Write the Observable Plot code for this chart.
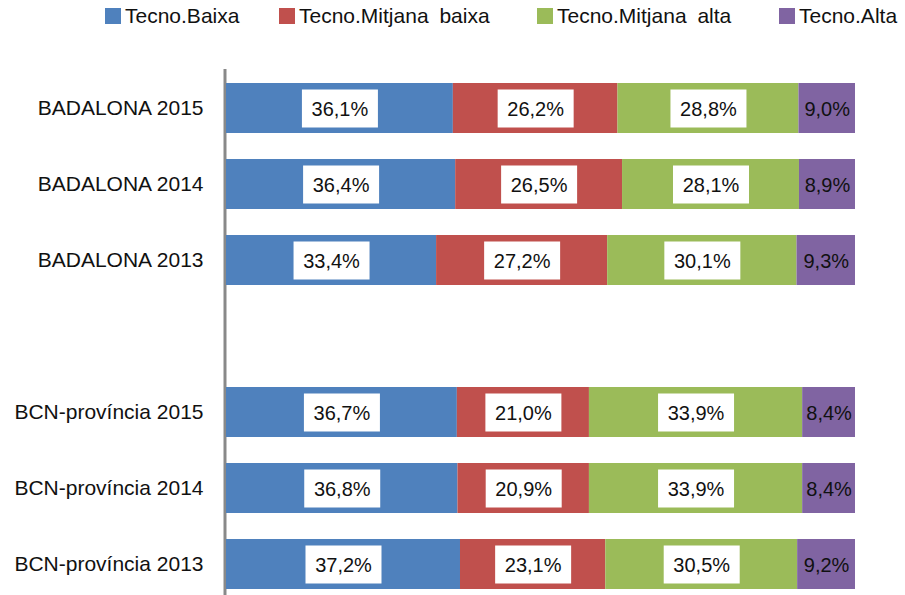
<!DOCTYPE html>
<html>
<head>
<meta charset="utf-8">
<script src="https://cdn.jsdelivr.net/npm/d3@7"></script>
<script src="https://cdn.jsdelivr.net/npm/@observablehq/plot@0.6"></script>
<style>
  html, body { margin: 0; padding: 0; background: #fff; }
  #wrap { position: relative; width: 905px; height: 595px; overflow: hidden; }
  #legend { position: absolute; top: 4px; left: 0; width: 905px; height: 30px;
            font-family: "Liberation Sans", Arial, sans-serif; font-size: 21px; color: #111; }
  .item { position: absolute; top: 0; display: flex; align-items: center; white-space: nowrap; word-spacing: 5px; }
  .sw { width: 16px; height: 16px; margin-right: 4px; display: inline-block; }
  svg { display: block; }
</style>
</head>
<body>
<div id="wrap"><div id="legend"></div><div id="chart"></div></div>
<script>
const categories = ["BADALONA 2015", "BADALONA 2014", "BADALONA 2013", "", "BCN-província 2015", "BCN-província 2014", "BCN-província 2013"];
const series = ["Tecno.Baixa", "Tecno.Mitjana baixa", "Tecno.Mitjana alta", "Tecno.Alta"];
const colors = ["#4F81BD", "#C0504D", "#9BBB59", "#8064A2"];
const tecnoBaixa        = [36.1, 36.4, 33.4, null, 36.7, 36.8, 37.2];
const tecnoMitjanaBaixa = [26.2, 26.5, 27.2, null, 21.0, 20.9, 23.1];
const tecnoMitjanaAlta  = [28.8, 28.1, 30.1, null, 33.9, 33.9, 30.5];
const tecnoAlta         = [9.0, 8.9, 9.3, null, 8.4, 8.4, 9.2];

const seriesValues = [tecnoBaixa, tecnoMitjanaBaixa, tecnoMitjanaAlta, tecnoAlta];
const rows = [];
categories.forEach((cat, i) => {
  if (!cat) return;
  const vals = seriesValues.map(s => s[i]);
  const total = d3.sum(vals);
  let acc = 0;
  vals.forEach((v, j) => {
    const x1 = acc / total * 100;
    acc += v;
    const x2 = acc / total * 100;
    rows.push({cat, series: series[j], idx: j, value: v, x1, x2, mid: (x1 + x2) / 2,
               label: v.toFixed(1).replace(".", ",") + "%"});
  });
});

const boxSymbol = { draw(context) { context.rect(-38, -19, 76, 38); } };

const chart = Plot.plot({
  width: 905,
  height: 595,
  marginLeft: 226,
  marginRight: 50,
  marginTop: 69,
  marginBottom: 0,
  style: { fontFamily: "Liberation Sans, Arial, sans-serif", background: "white" },
  x: { domain: [0, 100], axis: null },
  y: { domain: categories, range: [69.5, 602.2], paddingInner: 0.346, paddingOuter: 0.173, label: null },
  color: { domain: series, range: colors },
  marks: [
    Plot.ruleX([0], { stroke: "#898989", strokeWidth: 3, dx: -1.5 }),
    Plot.barX(rows, { x1: "x1", x2: "x2", y: "cat", fill: "series" }),
    Plot.dot(rows.filter(d => d.idx < 3), { x: "mid", y: "cat", symbol: boxSymbol, fill: "white", stroke: null, r: 10 }),
    Plot.text(rows, { x: "mid", y: "cat", text: "label", fontSize: 20, fill: "#111", dy: 1 }),
    Plot.axisY({ tickSize: 0, tickPadding: 23, fontSize: 21, tickFormat: d => d, color: "#111" })
  ]
});
document.getElementById("chart").appendChild(chart);

const legendLeft = [105, 279, 537, 779];
const legend = document.getElementById("legend");
series.forEach((s, i) => {
  const it = document.createElement("div");
  it.className = "item";
  it.style.left = legendLeft[i] + "px";
  it.innerHTML = `<span class="sw" style="background:${colors[i]}"></span><span>${s}</span>`;
  legend.appendChild(it);
});
</script>
</body>
</html>
